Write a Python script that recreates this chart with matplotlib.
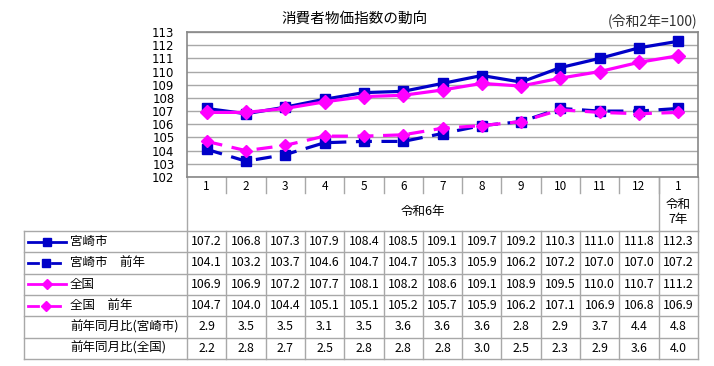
import matplotlib
matplotlib.use("Agg")
import matplotlib.pyplot as plt
from matplotlib.lines import Line2D

plt.rcParams['font.family'] = ['Noto Sans CJK JP', 'DejaVu Sans']

months = ["1", "2", "3", "4", "5", "6", "7", "8", "9", "10", "11", "12", "1"]
miyazaki = [107.2, 106.8, 107.3, 107.9, 108.4, 108.5, 109.1, 109.7, 109.2, 110.3, 111.0, 111.8, 112.3]
miyazaki_prev = [104.1, 103.2, 103.7, 104.6, 104.7, 104.7, 105.3, 105.9, 106.2, 107.2, 107.0, 107.0, 107.2]
zenkoku = [106.9, 106.9, 107.2, 107.7, 108.1, 108.2, 108.6, 109.1, 108.9, 109.5, 110.0, 110.7, 111.2]
zenkoku_prev = [104.7, 104.0, 104.4, 105.1, 105.1, 105.2, 105.7, 105.9, 106.2, 107.1, 106.9, 106.8, 106.9]
yoy_miyazaki = [2.9, 3.5, 3.5, 3.1, 3.5, 3.6, 3.6, 3.6, 2.8, 2.9, 3.7, 4.4, 4.8]
yoy_zenkoku = [2.2, 2.8, 2.7, 2.5, 2.8, 2.8, 2.8, 3.0, 2.5, 2.3, 2.9, 3.6, 4.0]
row_labels = ["宮崎市", "宮崎市　前年", "全国", "全国　前年", "前年同月比(宮崎市)", "前年同月比(全国)"]
yticks = list(range(102, 114))

BLUE = "#0000C8"
MAG = "#FF00FF"
GRID = "#A8A8A8"

W, H = 714, 366
fig = plt.figure(figsize=(W / 100, H / 100), dpi=100)

L, R, T, B = 187, 698, 32, 177
ax = fig.add_axes([L / W, 1 - B / H, (R - L) / W, (B - T) / H])
x = list(range(len(months)))
ax.plot(x, miyazaki, color=BLUE, lw=2.3, marker='s', ms=7.5, zorder=4)
ax.plot(x, miyazaki_prev, color=BLUE, lw=2.3, ls=(0, (5, 3)), marker='s', ms=7.5, zorder=3)
ax.plot(x, zenkoku, color=MAG, lw=2.3, marker='D', ms=7, zorder=5)
ax.plot(x, zenkoku_prev, color=MAG, lw=2.3, ls=(0, (5, 3)), marker='D', ms=6.5, zorder=4)
ax.set_xlim(-0.5, len(months) - 0.5)
ax.set_ylim(102, 113)
ax.set_yticks(yticks)
ax.set_yticklabels([str(v) for v in yticks], fontsize=8.5, family='DejaVu Sans')
ax.tick_params(axis='y', length=0, pad=9)
ax.set_xticks([])
ax.grid(axis='y', color=GRID, lw=1)
ax.set_axisbelow(True)
for s in ax.spines.values():
    s.set_color("#888888")
    s.set_linewidth(1.2)

# overlay in pixel coordinates for table
ov = fig.add_axes([0, 0, 1, 1], zorder=-1)
ov.set_xlim(0, W)
ov.set_ylim(H, 0)
ov.axis('off')

fig.text(355 / W, 1 - 19 / H, "消費者物価指数の動向", ha='center', va='center', fontsize=10.5)
fig.text(697 / W, 1 - 21 / H, "(令和2年=100)", ha='right', va='center', fontsize=10, color="#333333")

n = len(months)
cw = (R - L) / n
lc = dict(color=GRID, lw=1)

# month row
for i, m in enumerate(months):
    ov.text(L + cw * (i + 0.5), 186, m, ha='center', va='center', fontsize=8.5)
for i in range(1, n):
    ov.plot([L + cw * i, L + cw * i], [B, 193], **lc)
ov.plot([L, L], [B, 231], **lc)
ov.plot([L + cw * (n - 1)] * 2, [B, 231], **lc)
ov.plot([R, R], [B, 231], **lc)
ov.text((L + L + cw * (n - 1)) / 2, 212, "令和6年", ha='center', va='center', fontsize=9)
ov.text(L + cw * (n - 0.5), 212, "令和\n7年", ha='center', va='center', fontsize=9, linespacing=1.25)

# table
TL = 24
rows_top = 231
rh = 21.3
nrows = len(row_labels)
data_rows = [miyazaki, miyazaki_prev, zenkoku, zenkoku_prev, yoy_miyazaki, yoy_zenkoku]
for r in range(nrows + 1):
    yy = rows_top + rh * r
    ov.plot([TL, R], [yy, yy], **lc)
for xx in [TL, L] + [L + cw * i for i in range(1, n)] + [R]:
    ov.plot([xx, xx], [rows_top, rows_top + rh * nrows], **lc)

styles = [(BLUE, '-', 's'), (BLUE, '--', 's'), (MAG, '-', 'D'), (MAG, '--', 'D')]
for r, (lab, vals) in enumerate(zip(row_labels, data_rows)):
    yc = rows_top + rh * (r + 0.5)
    ov.text(70, yc, lab, ha='left', va='center', fontsize=9)
    for i, v in enumerate(vals):
        ov.text(L + cw * (i + 0.5), yc, f"{v:.1f}", ha='center', va='center', fontsize=8.8)
    if r < 4:
        col, ls, mk = styles[r]
        if ls == '-':
            ov.add_line(Line2D([28, 66], [yc, yc], color=col, lw=2))
        else:
            ov.add_line(Line2D([28, 38], [yc, yc], color=col, lw=2))
            ov.add_line(Line2D([52, 60], [yc, yc], color=col, lw=2))
        ov.add_line(Line2D([47 if ls == '-' else 46], [yc], color=col, marker=mk,
                           ms=6 if mk == 's' else 5, ls='none'))

fig.savefig("out.png", dpi=100)
